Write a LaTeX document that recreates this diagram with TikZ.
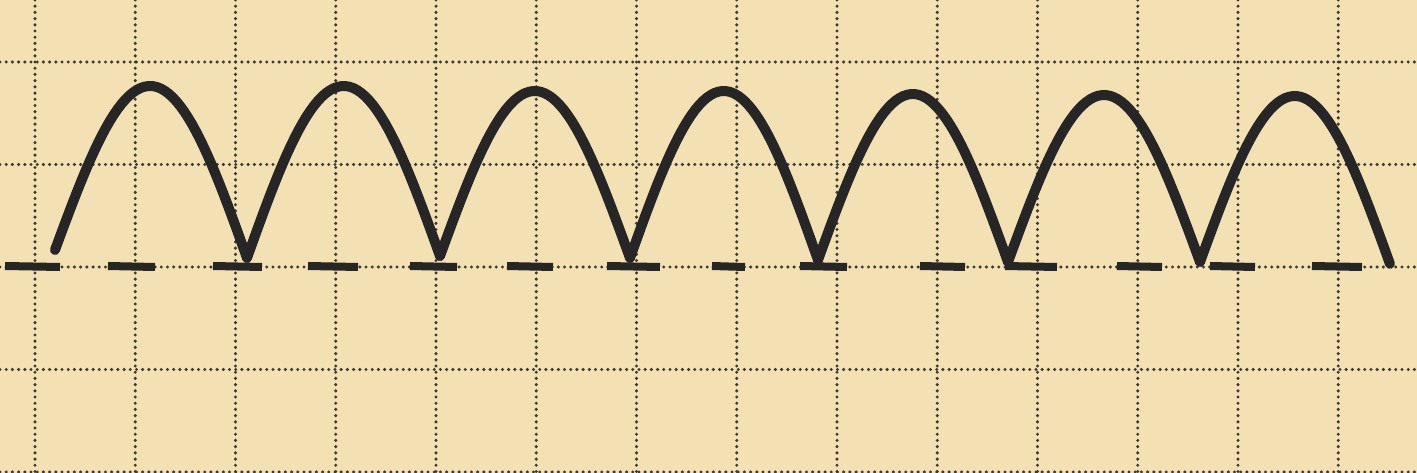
\documentclass[tikz,border=0pt]{standalone}
\usepackage{tikz}
\usetikzlibrary{calc}
\definecolor{Paper}{HTML}{F3E0B3}
\definecolor{Ink}{HTML}{262626}
\definecolor{GridDot}{HTML}{3A3A30}

\begin{document}
\begin{tikzpicture}[x=0.01cm, y=-0.01cm]
            \useasboundingbox (0, 0) rectangle (1417, 473);
            \fill[Paper] (0, 0) rectangle (1417, 473);

            % Dotted squared paper
            \foreach \k in {0,...,13} {
                \draw[GridDot, line width=0.34mm, line cap=round, dash pattern=on 0pt off 0.62mm] (35+100.25*\k, 0) -- (35+100.25*\k, 473);
            }
            \foreach \k in {0,...,4} {
                \draw[GridDot, line width=0.34mm, line cap=round, dash pattern=on 0pt off 0.62mm] (0, 62+102.5*\k) -- (1417, 62+102.5*\k);
            }


            % Zero line
            \foreach \a/\b in {5/60, 108/155, 213/262, 308/358, 410/457, 507/553, 607/660, 712/745, 800/847, 920/965, 1005/1057, 1117/1162, 1210/1255, 1312/1362} {
                \draw[Ink, line width=0.8mm] (\a, 266) -- (\b, 267);
            }


            % Rectified wave
            \foreach \xa/\xb/\ya/\yb/\yp in {55/247/250/258/82, 247/440/258/256/87, 440/630/256/258/90, 630/818/258/260/90, 818/1008/260/262/93, 1008/1200/262/262/95, 1200/1390/262/264/95} {
                \draw[Ink, line width=1mm, line cap=round, line join=round]
                    plot[domain=0:1, samples=50, variable=\t] ({\xa+(\xb-\xa)*\t}, {\ya+(\yb-\ya)*\t+(\yp-\ya)*sin(180*\t)});
            }
        \end{tikzpicture}
\end{document}
